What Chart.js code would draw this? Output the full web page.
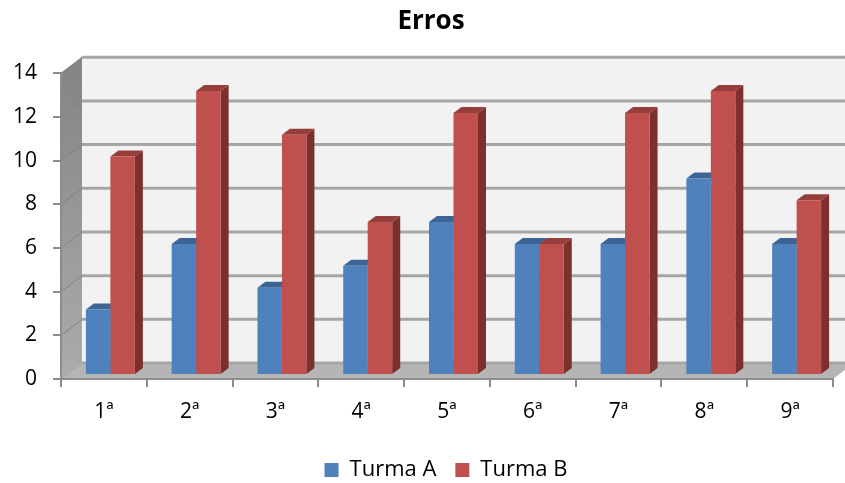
<!DOCTYPE html>
<html>
<head>
<meta charset="utf-8">
<title>Erros</title>
<script src="https://cdn.jsdelivr.net/npm/chart.js@4/dist/chart.umd.js"></script>
<style>
  html, body { margin: 0; padding: 0; background: #fff; }
  canvas { display: block; }
</style>
</head>
<body>
<canvas id="chart" width="845" height="483"></canvas>
<script>
const categories = ['1ª', '2ª', '3ª', '4ª', '5ª', '6ª', '7ª', '8ª', '9ª'];
const turmaA = [3, 6, 4, 5, 7, 6, 6, 9, 6];
const turmaB = [10, 13, 11, 7, 12, 6, 12, 13, 8];

const fontFamily = '"Open Sans", "Noto Sans", sans-serif';
const wallDepth = { x: 21, y: -16 };
const barShift = { x: 6.5, y: -4 };
const barDepth = { x: 8, y: -6 };
const shades = [
  { side: '#33557e', top: '#3c6494' },
  { side: '#7d2f2e', top: '#953e3b' },
];

const poly = (ctx, points, fill) => {
  ctx.beginPath();
  points.forEach(([x, y], i) => (i ? ctx.lineTo(x, y) : ctx.moveTo(x, y)));
  ctx.closePath();
  ctx.fillStyle = fill;
  ctx.fill();
};

// walls, floor and gridlines of the fake 3D box
const box3d = {
  id: 'box3d',
  afterLayout(chart) {
    const { titleBlock, legend } = chart;
    titleBlock.left = 17;
    titleBlock.right = 845;
    legend.left = 75;
    legend.right = 817;
    legend.top = 440;
  },
  beforeDraw(chart) {
    const { ctx, chartArea: a, scales: { y } } = chart;
    const dx = wallDepth.x;
    const dy = wallDepth.y;
    const end = chart.width;
    const top = a.top + dy;
    const back = a.bottom + dy;

    ctx.save();
    poly(ctx, [[a.left + dx, top], [end, top], [end, back], [a.left + dx, back]], '#f2f2f2');

    const wall = ctx.createLinearGradient(0, a.top, 0, a.bottom);
    wall.addColorStop(0, '#858585');
    wall.addColorStop(1, '#acacac');
    poly(ctx, [[a.left, a.top], [a.left + dx, top], [a.left + dx, back], [a.left, a.bottom]], wall);

    poly(ctx, [[a.left, a.bottom], [a.left + dx, back], [end, back], [end, a.bottom + dy * (end - a.right) / dx], [a.right, a.bottom]], '#b5b5b5');

    y.ticks.forEach((t) => {
      const py = y.getPixelForValue(t.value);
      ctx.lineWidth = 1;
      ctx.strokeStyle = t.value === 0 ? '#a0a0a0' : '#828282';
      ctx.beginPath();
      ctx.moveTo(a.left, py);
      ctx.lineTo(a.left + dx, py + dy);
      ctx.stroke();
      ctx.lineWidth = 3;
      ctx.strokeStyle = '#a6a6a6';
      ctx.beginPath();
      ctx.moveTo(a.left + dx, py + dy);
      ctx.lineTo(end, py + dy);
      ctx.stroke();
    });
    ctx.restore();
  },
  // side and top faces go under every front face, the library draws those
  beforeDatasetsDraw(chart) {
    const { ctx } = chart;
    const dx = barDepth.x;
    const dy = barDepth.y;
    ctx.save();
    ctx.translate(barShift.x, barShift.y);
    categories.forEach((_, i) => {
      chart.data.datasets.forEach((_d, s) => {
        const bar = chart.getDatasetMeta(s).data[i];
        const half = bar.width / 2;
        const l = bar.x - half;
        const r = bar.x + half;
        poly(ctx, [[r, bar.y], [r + dx, bar.y + dy], [r + dx, bar.base + dy], [r, bar.base]], shades[s].side);
        poly(ctx, [[l, bar.y], [l + dx, bar.y + dy], [r + dx, bar.y + dy], [r, bar.y]], shades[s].top);
      });
    });
    ctx.restore();
    ctx.save();
    ctx.translate(barShift.x, barShift.y);
  },
  afterDatasetsDraw(chart) {
    chart.ctx.restore();
  },
};

new Chart(document.getElementById('chart'), {
  type: 'bar',
  plugins: [box3d],
  data: {
    labels: categories,
    datasets: [
      { label: 'Turma A', data: turmaA, backgroundColor: '#4f81bd' },
      { label: 'Turma B', data: turmaB, backgroundColor: '#c0504d' },
    ],
  },
  options: {
    responsive: false,
    animation: false,
    layout: { padding: { left: 0, right: 12, top: 0, bottom: 0 } },
    datasets: { bar: { categoryPercentage: 0.571, barPercentage: 1 } },
    plugins: {
      tooltip: { enabled: false },
      title: {
        display: true,
        text: 'Erros',
        color: '#000',
        font: { family: fontFamily, size: 26, weight: 'bold', lineHeight: 1.2 },
        padding: { top: 6, bottom: 36 },
      },
      legend: {
        position: 'bottom',
        labels: {
          color: '#000',
          font: { family: fontFamily, size: 22 },
          boxWidth: 14,
          boxHeight: 14,
          padding: 19,
        },
      },
    },
    scales: {
      x: {
        afterFit: (scale) => { scale.height = 53; },
        grid: { drawOnChartArea: false, offset: true, tickLength: 8, color: '#8c8c8c', lineWidth: 2 },
        border: { color: '#8c8c8c', width: 2 },
        ticks: { color: '#000', font: { family: fontFamily, size: 21 }, padding: 12, maxRotation: 0 },
      },
      y: {
        min: 0,
        max: 14,
        afterFit: (scale) => { scale.width = 61; },
        grid: { drawOnChartArea: false, tickLength: 8, color: '#8c8c8c', lineWidth: 2 },
        border: { color: '#8c8c8c', width: 2 },
        ticks: { stepSize: 2, color: '#000', font: { family: fontFamily, size: 21 }, padding: 16 },
      },
    },
  },
});
</script>
</body>
</html>
